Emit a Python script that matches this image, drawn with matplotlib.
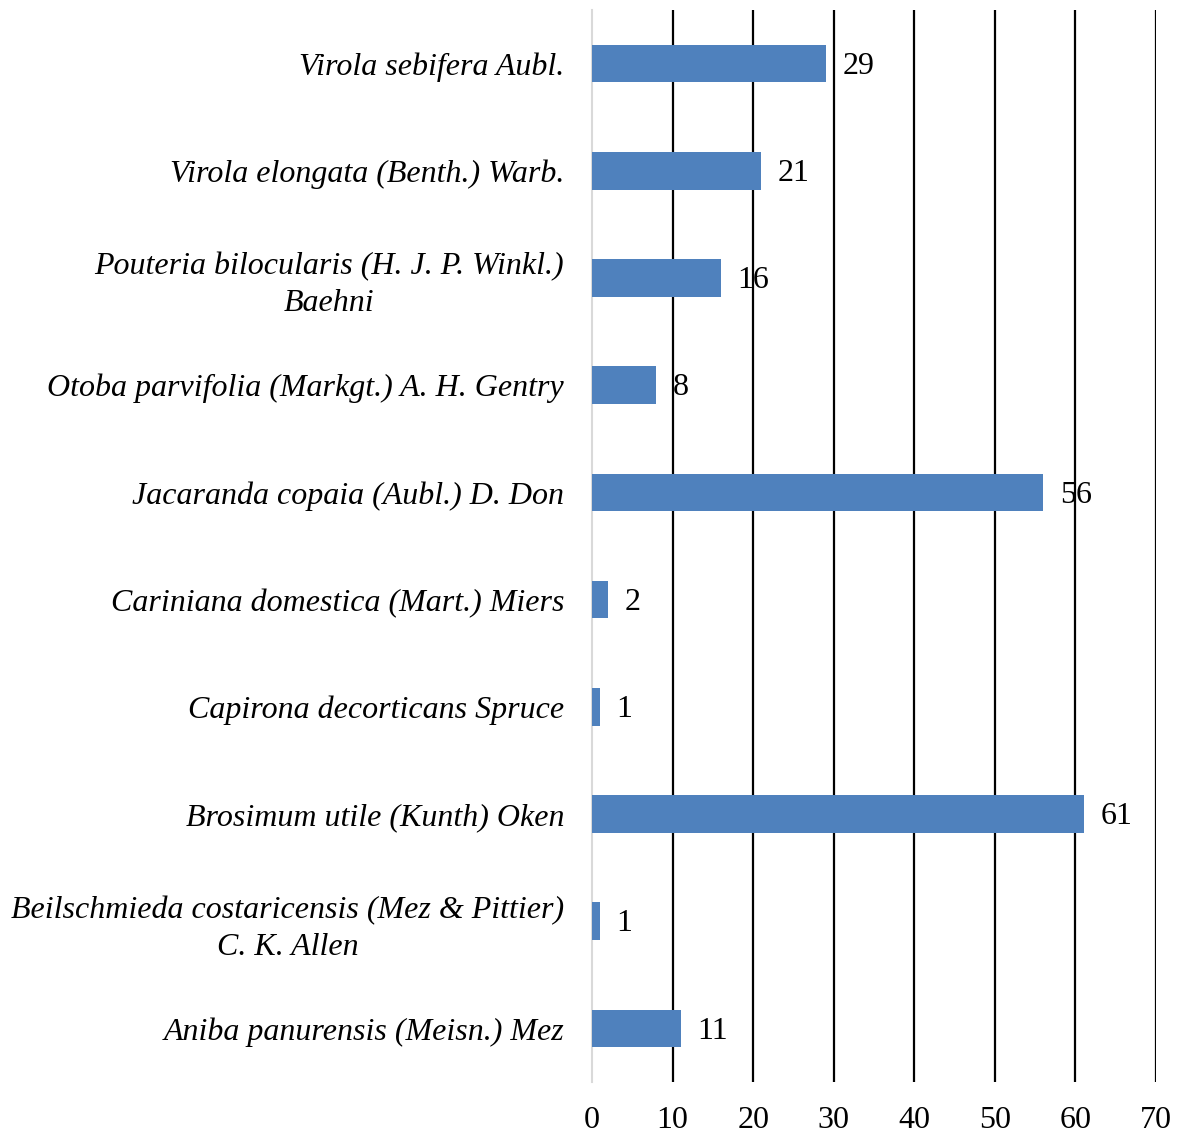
import matplotlib.pyplot as plt

species = [
    "Aniba panurensis (Meisn.) Mez",
    "Beilschmieda costaricensis (Mez & Pittier)\nC. K. Allen",
    "Brosimum utile (Kunth) Oken",
    "Capirona decorticans Spruce",
    "Cariniana domestica (Mart.) Miers",
    "Jacaranda copaia (Aubl.) D. Don",
    "Otoba parvifolia (Markgt.) A. H. Gentry",
    "Pouteria bilocularis (H. J. P. Winkl.)\nBaehni",
    "Virola elongata (Benth.) Warb.",
    "Virola sebifera Aubl.",
]
counts = [11, 1, 61, 1, 2, 56, 8, 16, 21, 29]
xticks = [0, 10, 20, 30, 40, 50, 60, 70]

plt.rcParams['font.family'] = ['Liberation Serif', 'DejaVu Serif']
fs = 23

fig = plt.figure(figsize=(11.83, 11.35), dpi=100)
ax = fig.add_axes([0.5004, 0.0467, 0.4768, 0.9445])

ypos = list(range(len(species)))
ax.barh(ypos, counts, height=0.35, color='#4f81bd', zorder=3)

for y, v in zip(ypos, counts):
    ax.annotate(str(v), (v, y), xytext=(12, -2), textcoords='offset points',
                va='center', ha='left', fontsize=fs, zorder=1)

ax.set_xlim(0, 70)
ax.set_ylim(-0.5, 9.5)
ax.set_xticks(xticks)
ax.set_xticklabels([str(t) for t in xticks], fontsize=fs)
ax.set_yticks(ypos)
ax.set_yticklabels(species, fontsize=fs, style='italic', linespacing=1.35)
for lbl in ax.get_yticklabels():
    lbl.set_multialignment('center')

for t in xticks[1:]:
    ax.axvline(t, color='black', lw=1.6, zorder=2)

ax.tick_params(axis='both', length=0)
ax.tick_params(axis='x', pad=17)
ax.tick_params(axis='y', pad=20)
for s in ['top', 'right', 'bottom']:
    ax.spines[s].set_visible(False)
ax.spines['left'].set_color('#d9d9d9')
ax.spines['left'].set_linewidth(1.5)

fig.savefig('out.png', dpi=100)
